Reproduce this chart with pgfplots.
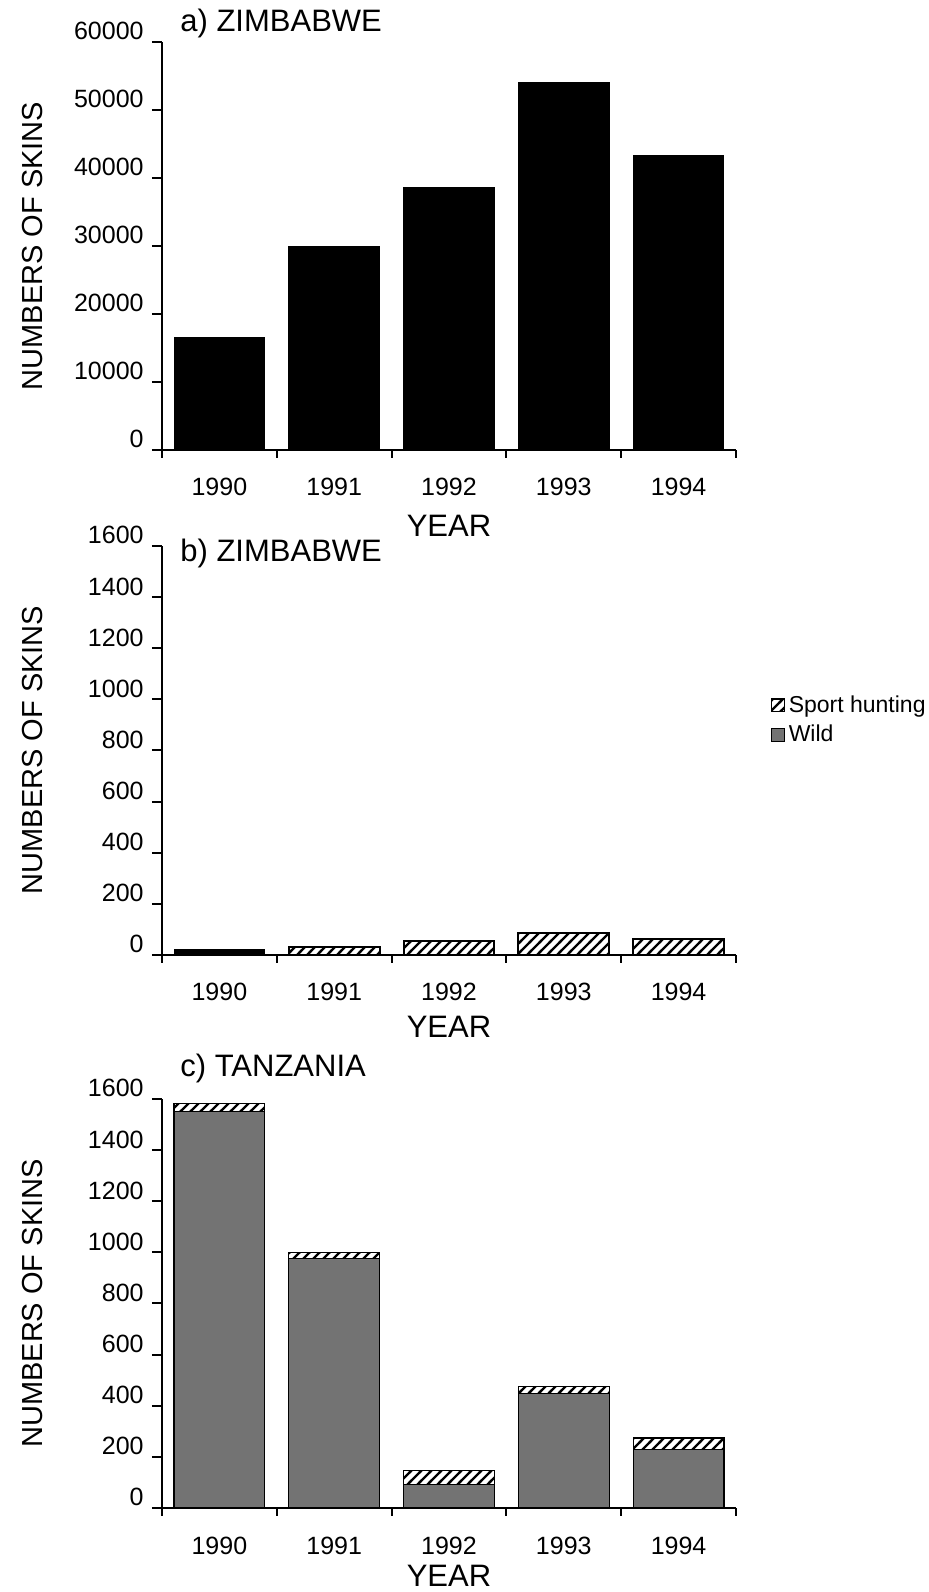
\documentclass[border=0pt]{standalone}
\usepackage{fontspec}
\setmainfont{Liberation Sans}
\usepackage{pgfplots}
\pgfplotsset{compat=1.18}
\usetikzlibrary{patterns.meta}

\tikzdeclarepattern{
  name=hatch,
  type=uncolored,
  bottom left={(-1pt,-1pt)},
  top right={(6pt,6pt)},
  tile size={(5pt,5pt)},
  code={
    \draw[line width=1.1pt] (-1pt,-1pt) -- (6pt,6pt);
  }
}

\pgfplotsset{
  sqlegend/.style={legend image code/.code={\draw[##1,line width=0.6pt] (0pt,-3.2pt) rectangle (6.4pt,3.2pt);}},
  myax/.style={
    scale only axis, width=287pt, height=204pt,
    axis x line*=bottom, axis y line*=left,
    axis line style={line width=1pt, black},
    xmin=-0.5, xmax=4.5, ymin=0,
    xtick={0,...,4}, xticklabels={1990,1991,1992,1993,1994},
    major x tick style={draw=none},
    minor xtick={-0.5,0.5,1.5,2.5,3.5,4.5},
    minor x tick style={line width=1pt, black},
    minor tick length=4pt,
    major tick length=5pt,
    ytick style={line width=1pt, black},
    tick align=outside,
    tick label style={font=\fontsize{12.5}{14}\selectfont},
    xticklabel style={anchor=base, yshift=-18pt},
    yticklabel style={anchor=base east, inner sep=0pt, xshift=-4pt, yshift=1pt},
    /pgf/number format/assume math mode=true,
    /pgf/number format/set thousands separator={},
    scaled y ticks=false,
    clip=false,
  }
}

\begin{document}
\begin{tikzpicture}[x=1pt,y=1pt]
\path[use as bounding box] (0,0) rectangle (464,796);

% ---------- a) ----------
\begin{axis}[myax, at={(81pt,571pt)}, anchor=south west,
  ymax=60000, ytick={0,10000,...,60000}]
\addplot[ybar, bar width=0.79, bar shift=0pt, fill=black, draw=black, line width=0.5pt]
  coordinates {(0,16500) (1,29900) (2,38600) (3,54000) (4,43300)};
\end{axis}

% ---------- b) ----------
\begin{axis}[myax, at={(81pt,318.5pt)}, anchor=south west, height=204.5pt,
  ymax=1600, ytick={0,200,...,1600},
  legend style={at={(rel axis cs:1.338,0.645)}, anchor=north east, draw=none, fill=none,
    inner sep=0pt, font=\fontsize{11.5}{13}\selectfont, row sep=1pt,
    /tikz/every even column/.append style={column sep=3pt}},
  legend cell align=left]
\addplot[ybar, bar width=0.79, bar shift=0pt, fill=black, draw=black, line width=0.5pt, forget plot]
  coordinates {(0,20)};
\addplot[ybar, bar width=0.79, bar shift=0pt, pattern=hatch, draw=black, line width=1pt, sqlegend]
  coordinates {(1,31) (2,53) (3,85) (4,64)};
\addlegendentry{Sport hunting}
\addlegendimage{fill=black!55, draw=black, sqlegend}
\addlegendentry{Wild}
\end{axis}

% ---------- c) ----------
\begin{axis}[myax, at={(81pt,42pt)}, anchor=south west, height=204.5pt,
  ymax=1600, ytick={0,200,...,1600}, ybar stacked, bar width=0.79]
\addplot[fill=black!55, draw=black, line width=0.6pt]
  coordinates {(0,1550) (1,976) (2,92) (3,448) (4,228)};
\addplot[pattern=hatch, draw=black, line width=0.6pt]
  coordinates {(0,33) (1,24) (2,55) (3,26) (4,46)};
\end{axis}

% ---------- texts ----------
\begin{scope}[every node/.style={font=\fontsize{15.5}{17}\selectfont, inner sep=0pt}]
\node[anchor=base west] at (90,780) {a) ZIMBABWE};
\node[anchor=base west] at (90,515) {b) ZIMBABWE};
\node[anchor=base west] at (90,257.5) {c) TANZANIA};
\node[anchor=base] at (224.5,527.5) {YEAR};
\node[anchor=base] at (224.5,277) {YEAR};
\node[anchor=base] at (224.5,2.5) {YEAR};
\end{scope}
\begin{scope}[every node/.style={font=\fontsize{14.5}{16}\selectfont, inner sep=0pt, rotate=90, anchor=base}]
\node at (21,673) {NUMBERS OF SKINS};
\node at (21,421) {NUMBERS OF SKINS};
\node at (21,144.25) {NUMBERS OF SKINS};
\end{scope}
\end{tikzpicture}
\end{document}
